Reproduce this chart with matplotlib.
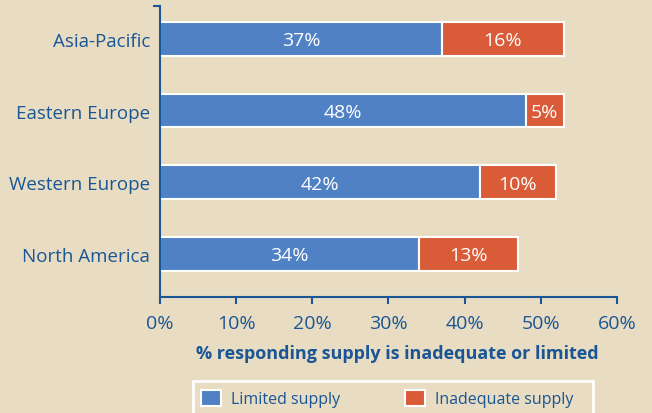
import numpy as np
import matplotlib.pyplot as plt
from matplotlib.patches import Patch, Rectangle

# --------------------- DATA ---------------------

regions = ["North America", "Western Europe", "Eastern Europe", "Asia-Pacific"]
limited = [34, 42, 48, 37]
inadequate = [13, 10, 5, 16]
xticks = [0, 10, 20, 30, 40, 50, 60]

# --------------------- STYLE ---------------------

bg = "#e8ddc2"
blue = "#4f81c4"
red = "#da5b37"
navy = "#1a5595"

plt.rcParams["font.family"] = ["Open Sans", "DejaVu Sans"]

# --------------------- PLOT ---------------------

fig = plt.figure(figsize=(6.52, 4.14), dpi=100, facecolor=bg)
ax = fig.add_axes([0.2454, 0.2802, 0.7009, 0.7029])
ax.set_facecolor(bg)

y = np.arange(len(regions))
h = 0.47
ax.barh(y, limited, height=h, color=blue, edgecolor="white", linewidth=1.5)
ax.barh(y, inadequate, left=limited, height=h, color=red,
        edgecolor="white", linewidth=1.5)

for i in range(len(regions)):
    ax.text(limited[i] / 2, y[i] - 0.02, f"{limited[i]}%", color="white",
            ha="center", va="center", fontsize=14)
    ax.text(limited[i] + inadequate[i] / 2, y[i] - 0.02, f"{inadequate[i]}%",
            color="white", ha="center", va="center", fontsize=14)

top = 3.46
ax.set_xlim(0, 60)
ax.set_ylim(-0.6, top)

ax.set_xticks(xticks)
ax.set_xticklabels([f"{t}%" for t in xticks], fontsize=14, color=navy)
ax.set_yticks(y)
ax.set_yticklabels(regions, fontsize=13.5, color=navy)
ax.set_yticks([top], minor=True)

ax.tick_params(axis="x", length=5, width=1.5, color=navy, pad=7)
ax.tick_params(axis="y", which="major", length=0, pad=7)
ax.tick_params(axis="y", which="minor", length=5, width=1.5, color=navy)

for s in ["top", "right"]:
    ax.spines[s].set_visible(False)
for s in ["left", "bottom"]:
    ax.spines[s].set_color(navy)
    ax.spines[s].set_linewidth(1.5)

ax.set_xlabel("% responding supply is inadequate or limited", fontsize=13,
              fontweight="bold", color=navy)
ax.xaxis.set_label_coords(0.52, -0.163)

# legend with white box running off the bottom edge
fig.patches.append(Rectangle((0.296, -0.05), 0.6135, 0.127,
                             transform=fig.transFigure, facecolor="none",
                             edgecolor="white", linewidth=2))
handles = [Patch(facecolor=blue, edgecolor="white", linewidth=1.5),
           Patch(facecolor=red, edgecolor="white", linewidth=1.5)]
fig.legend(handles, ["Limited supply", "Inadequate supply"], ncol=2,
           loc="center left", bbox_to_anchor=(0.308, 0.035), frameon=False,
           fontsize=11.5, labelcolor=navy, handlelength=1.25, handleheight=1.2,
           handletextpad=0.63, columnspacing=4.1, borderpad=0, borderaxespad=0)

fig.savefig("out.png", dpi=100, facecolor=bg)
